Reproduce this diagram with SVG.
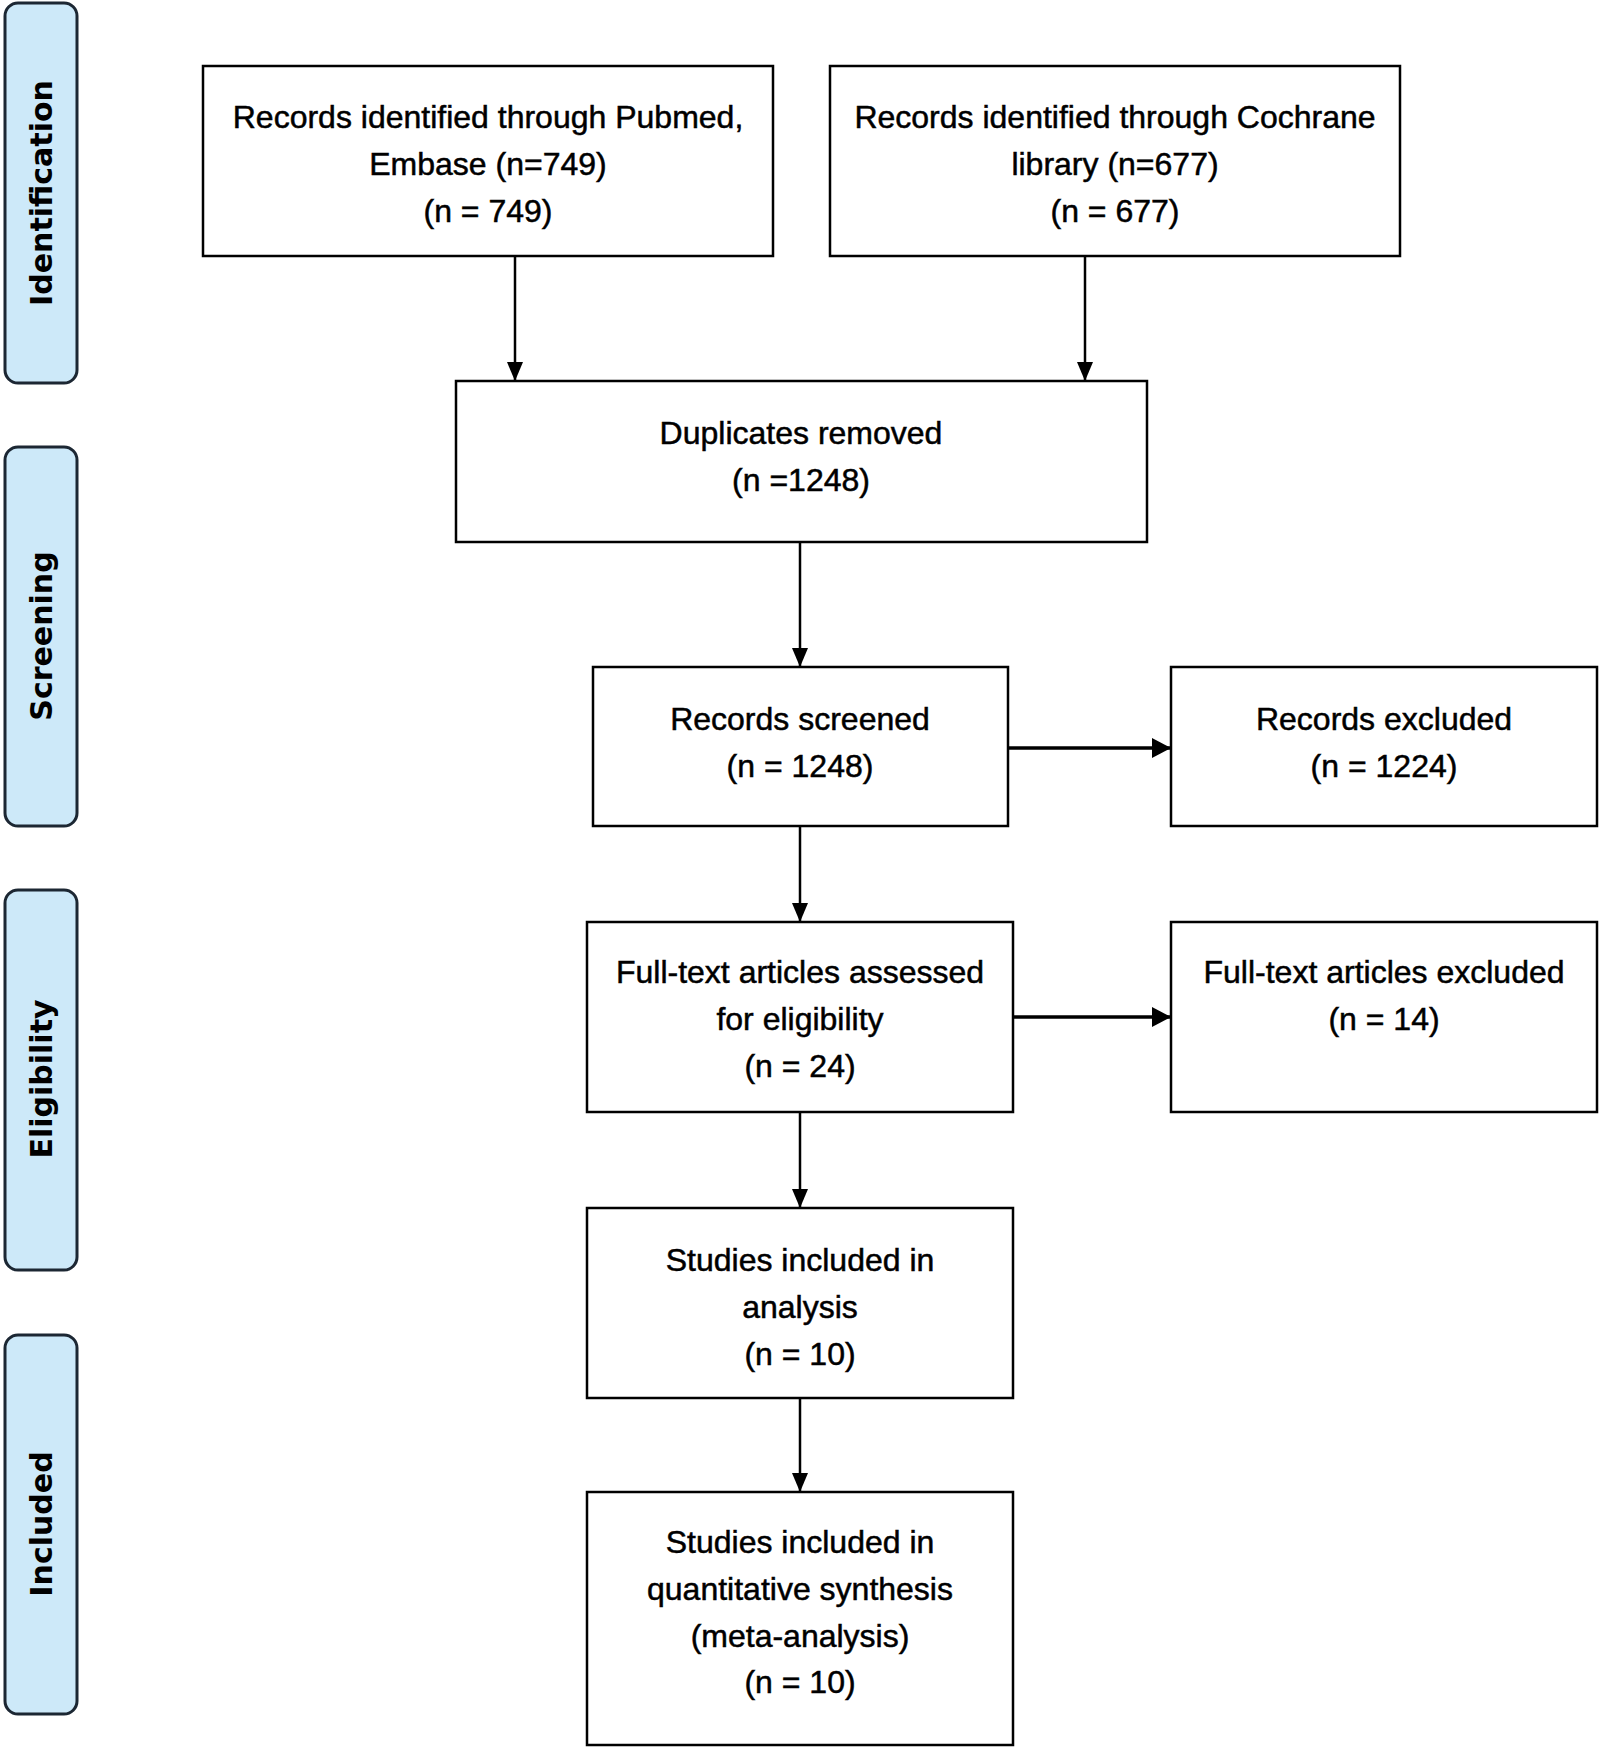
<svg xmlns="http://www.w3.org/2000/svg" width="1602" height="1750" viewBox="0 0 1602 1750">
<style>
.box{fill:#fff;stroke:#000;stroke-width:2.5}
.phase{fill:#cde9f9;stroke:#1c2733;stroke-width:3}
.t{font-family:"Liberation Sans",Arial,sans-serif;font-size:32px;fill:#000;stroke:#000;stroke-width:0.5;text-anchor:middle}
.p{font-family:"DejaVu Sans",Verdana,sans-serif;font-weight:bold;font-size:30px;fill:#000;text-anchor:middle}
.c{stroke:#000;stroke-width:2.5;fill:none;marker-end:url(#ah)}
.ch{stroke:#000;stroke-width:3.5;fill:none;marker-end:url(#ahh)}
</style>
<defs>
<marker id="ah" markerUnits="userSpaceOnUse" markerWidth="20" markerHeight="16" refX="19" refY="8" orient="auto">
<path d="M0,0 L19,8 L0,16 Z" fill="#000"/>
</marker>
<marker id="ahh" markerUnits="userSpaceOnUse" markerWidth="20" markerHeight="20" refX="19" refY="10" orient="auto">
<path d="M0,0 L19,10 L0,20 Z" fill="#000"/>
</marker>
</defs>
<rect width="1602" height="1750" fill="#fff"/>
<g id="phase-identification">
<rect class="phase" x="5" y="3" width="72" height="380" rx="13"/>
<text class="p" transform="translate(52,193) rotate(-90)">Identification</text>
</g>
<g id="phase-screening">
<rect class="phase" x="5" y="447" width="72" height="379" rx="13"/>
<text class="p" transform="translate(52,636) rotate(-90)">Screening</text>
</g>
<g id="phase-eligibility">
<rect class="phase" x="5" y="890" width="72" height="380" rx="13"/>
<text class="p" transform="translate(52,1079) rotate(-90)">Eligibility</text>
</g>
<g id="phase-included">
<rect class="phase" x="5" y="1335" width="72" height="379" rx="13"/>
<text class="p" transform="translate(52,1524) rotate(-90)">Included</text>
</g>
<g id="connectors">
<line class="c" x1="515" y1="256" x2="515" y2="381"/>
<line class="c" x1="1085" y1="256" x2="1085" y2="381"/>
<line class="c" x1="800" y1="542" x2="800" y2="667"/>
<line class="ch" x1="1008" y1="748" x2="1171" y2="748"/>
<line class="c" x1="800" y1="826" x2="800" y2="922"/>
<line class="ch" x1="1013" y1="1017" x2="1171" y2="1017"/>
<line class="c" x1="800" y1="1112" x2="800" y2="1208"/>
<line class="c" x1="800" y1="1398" x2="800" y2="1492"/>
</g>
<g id="node-pubmed">
<rect class="box" x="203" y="66" width="570" height="190"/>
<text class="t" x="488" y="128">Records identified through Pubmed,</text>
<text class="t" x="488" y="175">Embase (n=749)</text>
<text class="t" x="488" y="222">(n = 749)</text>
</g>
<g id="node-cochrane">
<rect class="box" x="830" y="66" width="570" height="190"/>
<text class="t" x="1115" y="128">Records identified through Cochrane</text>
<text class="t" x="1115" y="175">library (n=677)</text>
<text class="t" x="1115" y="222">(n = 677)</text>
</g>
<g id="node-duplicates">
<rect class="box" x="456" y="381" width="691" height="161"/>
<text class="t" x="801" y="444">Duplicates removed</text>
<text class="t" x="801" y="491">(n =1248)</text>
</g>
<g id="node-screened">
<rect class="box" x="593" y="667" width="415" height="159"/>
<text class="t" x="800" y="730">Records screened</text>
<text class="t" x="800" y="777">(n = 1248)</text>
</g>
<g id="node-excluded">
<rect class="box" x="1171" y="667" width="426" height="159"/>
<text class="t" x="1384" y="730">Records excluded</text>
<text class="t" x="1384" y="777">(n = 1224)</text>
</g>
<g id="node-fulltext">
<rect class="box" x="587" y="922" width="426" height="190"/>
<text class="t" x="800" y="983">Full-text articles assessed</text>
<text class="t" x="800" y="1030">for eligibility</text>
<text class="t" x="800" y="1077">(n = 24)</text>
</g>
<g id="node-fulltext-excluded">
<rect class="box" x="1171" y="922" width="426" height="190"/>
<text class="t" x="1384" y="983">Full-text articles excluded</text>
<text class="t" x="1384" y="1030">(n = 14)</text>
</g>
<g id="node-analysis">
<rect class="box" x="587" y="1208" width="426" height="190"/>
<text class="t" x="800" y="1271">Studies included in</text>
<text class="t" x="800" y="1318">analysis</text>
<text class="t" x="800" y="1365">(n = 10)</text>
</g>
<g id="node-meta">
<rect class="box" x="587" y="1492" width="426" height="253"/>
<text class="t" x="800" y="1553">Studies included in</text>
<text class="t" x="800" y="1600">quantitative synthesis</text>
<text class="t" x="800" y="1647">(meta-analysis)</text>
<text class="t" x="800" y="1693">(n = 10)</text>
</g>
</svg>
